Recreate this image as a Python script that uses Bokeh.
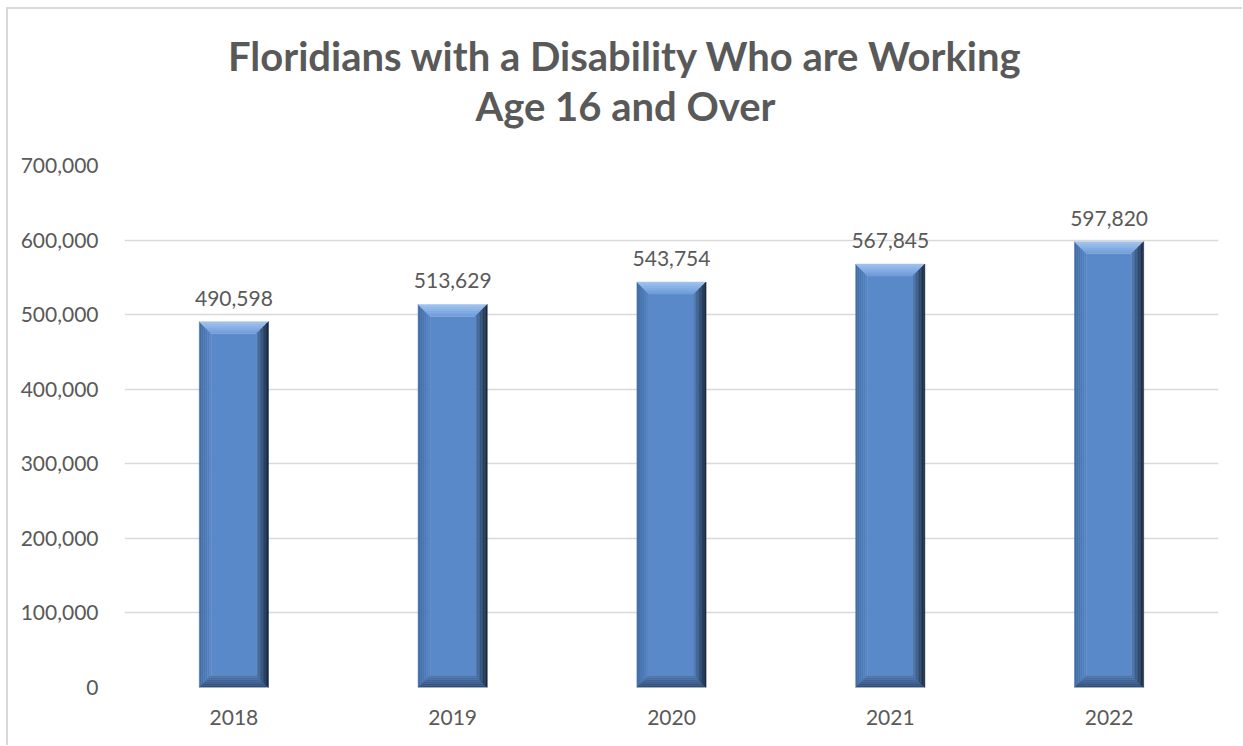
from bokeh.plotting import figure
from bokeh.layouts import column
from bokeh.models import FixedTicker, NumeralTickFormatter, ColumnDataSource
from bokeh.core.properties import value
from bokeh.embed import file_html
from bokeh.resources import INLINE

years = ["2018", "2019", "2020", "2021", "2022"]
workers = [490598, 513629, 543754, 567845, 597820]
y_ticks = [0, 100000, 200000, 300000, 400000, 500000, 600000, 700000]
title_lines = ["Floridians with a Disability Who are Working", "Age 16 and Over"]

W, H = 1234, 736
HT = 130                      # height of the title strip
BL, BR, BT, BB = 116, 24, 156 - HT, 58
HC = H - HT
FW, FH = W - BL - BR, HC - BT - BB
YMAX = 700000
NCAT = len(years)

FONT = "Lato"
GRAY = "#595959"

# ---- title strip (its frame is aligned with the chart's frame by the column) ----
t = figure(width=W, height=HT, output_backend="svg", toolbar_location=None,
           x_range=(0, 1), y_range=(0, HT), min_border=0,
           x_axis_type=None, y_axis_type=None)
t.outline_line_color = None
t.grid.visible = False
title_x = (W / 2 - BL) / FW   # centre of the whole chart, in frame fractions
tsrc = ColumnDataSource(dict(x=[title_x, title_x], y=[HT - 46, HT - 96], t=title_lines))
t.text(source=tsrc, x="x", y="y", text="t", text_align="center", text_baseline="middle",
       text_font=value(FONT), text_font_size="40px", text_font_style="bold", text_color=GRAY)

# ---- chart ----
p = figure(width=W, height=HC, output_backend="svg", toolbar_location=None,
           x_range=(0, NCAT), y_range=(0, YMAX),
           min_border_left=BL, min_border_right=BR, min_border_top=BT, min_border_bottom=BB)
p.outline_line_color = None
p.background_fill_color = "white"
p.border_fill_color = "white"

p.yaxis.ticker = FixedTicker(ticks=y_ticks)
p.yaxis.formatter = NumeralTickFormatter(format="0,0")
xt = [i + 0.5 for i in range(NCAT)]
p.xaxis.ticker = FixedTicker(ticks=xt)
p.xaxis.major_label_overrides = {x: y for x, y in zip(xt, years)}
for ax in (p.xaxis[0], p.yaxis[0]):
    ax.axis_line_color = None
    ax.major_tick_line_color = None
    ax.minor_tick_line_color = None
    ax.major_label_text_font = FONT
    ax.major_label_text_font_size = "21px"
    ax.major_label_text_color = GRAY
p.yaxis.major_label_standoff = 20
p.xaxis.major_label_standoff = 16
p.xgrid.grid_line_color = None
p.ygrid.ticker = FixedTicker(ticks=y_ticks)
p.ygrid.grid_line_color = "#D9D9D9"
p.ygrid.grid_line_width = 1.5

# bevelled bars
bar_w = 0.316
bx = 12 / FW * NCAT          # bevel width in x data units
by = 12 / FH * YMAX          # bevel height in y data units

face = dict(left=[], right=[], top=[], bottom=[])
polys = dict(xs=[], ys=[], color=[])

def add_poly(xs, ys, c):
    polys["xs"].append(xs)
    polys["ys"].append(ys)
    polys["color"].append(c)

def mix(c1, c2, f):
    a = [int(c1[i:i + 2], 16) for i in (1, 3, 5)]
    b = [int(c2[i:i + 2], 16) for i in (1, 3, 5)]
    return "#%02x%02x%02x" % tuple(round(a[k] + (b[k] - a[k]) * f) for k in range(3))

for i, v in enumerate(workers):
    xc = i + 0.5
    L, R, B, T = xc - bar_w / 2, xc + bar_w / 2, 0, v
    l, r, b, tt = L + bx, R - bx, B + by, T - by
    face["left"].append(l); face["right"].append(r)
    face["bottom"].append(b); face["top"].append(tt)
    n = 6
    # left bevel
    for k in range(n):
        f0, f1 = k / n, (k + 1) / n
        x0, x1 = L + (l - L) * f0, L + (l - L) * f1
        add_poly([x0, x1, x1, x0],
                 [T - (T - tt) * f0, T - (T - tt) * f1, B + (b - B) * f1, B + (b - B) * f0],
                 mix("#3f6aa3", "#5686c6", (k + 0.5) / n))
    # top bevel (lighter at outer edge)
    for k in range(n):
        f0, f1 = k / n, (k + 1) / n
        y0, y1 = T - (T - tt) * f0, T - (T - tt) * f1
        xl0, xl1 = L + (l - L) * f0, L + (l - L) * f1
        xr0, xr1 = R - (R - r) * f0, R - (R - r) * f1
        add_poly([xl0, xr0, xr1, xl1], [y0, y0, y1, y1], mix("#a2c5f0", "#6c9ad8", (k + 0.5) / n))
    # bottom bevel
    for k in range(n):
        f0, f1 = k / n, (k + 1) / n
        y0, y1 = B + (b - B) * f0, B + (b - B) * f1
        xl0, xl1 = L + (l - L) * f0, L + (l - L) * f1
        xr0, xr1 = R - (R - r) * f0, R - (R - r) * f1
        add_poly([xl0, xr0, xr1, xl1], [y0, y0, y1, y1], mix("#2c4970", "#4d78b0", (k + 0.5) / n))
    # right bevel (gradient to dark navy)
    n = 8
    for k in range(n):
        f0, f1 = k / n, (k + 1) / n
        x0, x1 = r + (R - r) * f0, r + (R - r) * f1
        add_poly([x0, x1, x1, x0],
                 [tt + (T - tt) * f0, tt + (T - tt) * f1, b + (B - b) * f1, b + (B - b) * f0],
                 mix("#4f7db8", "#17253b", (k + 0.5) / n))

p.quad(source=ColumnDataSource(face), left="left", right="right", top="top", bottom="bottom",
       fill_color="#5989c9", line_color=None)
p.patches(source=ColumnDataSource(polys), xs="xs", ys="ys", fill_color="color",
          line_color="color", line_width=0.5)

# data labels
lab = ColumnDataSource(dict(x=xt, y=workers, t=[f"{v:,}" for v in workers]))
p.text(source=lab, x="x", y="y", text="t", text_align="center", text_baseline="bottom",
       y_offset=-16, text_font=value(FONT), text_font_size="21px", text_color=GRAY)

page = column(t, p, spacing=0)
page.styles = {"margin-left": "6px", "margin-top": "7px",
               "border-top": "2px solid #D9D9D9", "border-left": "2px solid #D9D9D9"}

open("out.html", "w").write(file_html(page, INLINE))
